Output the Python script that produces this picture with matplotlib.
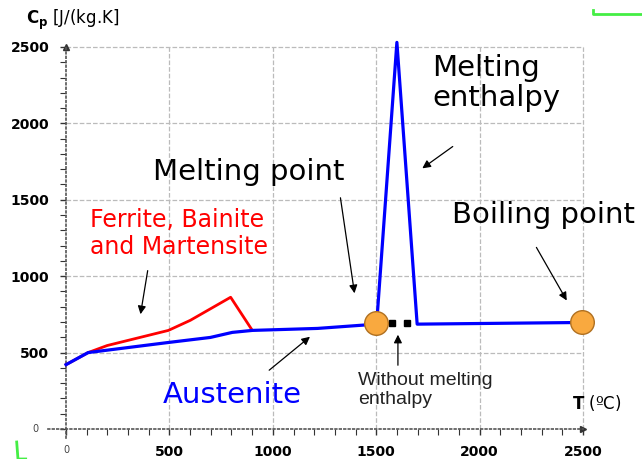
import matplotlib
matplotlib.use('Agg')
import matplotlib.pyplot as plt

plt.rcParams['font.family'] = ['DejaVu Sans']

# blue curve: austenite, with the melting enthalpy spike
T_blue = [0, 107, 495, 698, 804, 901, 1216, 1502, 1600, 1698, 2500]
Cp_blue = [421, 500, 566, 599, 632, 645, 658, 686, 2530, 686, 697]
# red curve: ferrite, bainite and martensite
T_red = [0, 107, 199, 495, 601, 796, 898]
Cp_red = [421, 500, 546, 645, 711, 862, 651]
# melting and boiling points
T_pts = [1499, 2495]
Cp_pts = [695, 700]
# "without melting enthalpy" dashes
T_dash = [1576, 1649]
Cp_dash = [692, 692]

xticks = [0, 500, 1000, 1500, 2000, 2500]
yticks = [0, 500, 1000, 1500, 2000, 2500]

fig = plt.figure(figsize=(6.42, 4.59), dpi=100)
ax = fig.add_axes([0.0771, 0.0388, 0.8632, 0.8922])
ax.set_xlim(-80, 2600)
ax.set_ylim(-80, 2600)

for s in ['top', 'right']:
    ax.spines[s].set_visible(False)
for s in ['left', 'bottom']:
    ax.spines[s].set_position(('data', 0))
    ax.spines[s].set_linestyle(':')
    ax.spines[s].set_color('#555555')
    ax.spines[s].set_linewidth(1.2)
ax.spines['bottom'].set_bounds(-85, 2500)
ax.spines['left'].set_bounds(-60, 2500)

ax.set_xticks(xticks)
ax.set_yticks(yticks)
ax.set_xticks(range(0, 2600, 100), minor=True)
ax.set_yticks(range(0, 2600, 100), minor=True)
ax.tick_params(which='both', direction='out', color='#333333')
ax.tick_params(which='major', length=4.5, width=1)
ax.tick_params(which='minor', length=4, width=0.8)
ax.tick_params(axis='x', pad=7)
ax.tick_params(axis='y', pad=7.5)
ax.set_xticklabels([''] + [str(v) for v in xticks[1:]], fontsize=10,
                   fontweight='bold')
ax.set_yticklabels([''] + [str(v) for v in yticks[1:]], fontsize=10,
                   fontweight='bold')
ax.text(0, -135, '0', fontsize=7, color='#444444', ha='center', va='center')
ax.text(-150, 0, '0', fontsize=7, color='#444444', ha='center', va='center')

for v in xticks[1:]:
    ax.vlines(v, 0, 2500, color='#bbbbbb', ls='--', lw=0.9, zorder=0)
for v in yticks[1:]:
    ax.hlines(v, 0, 2500, color='#bbbbbb', ls='--', lw=0.9, zorder=0)

# axis arrow heads
ax.plot([0], [2500], marker='^', color='#333333', ms=5, clip_on=False)
ax.plot([2500], [0], marker='>', color='#333333', ms=5, clip_on=False)

ax.plot(T_red, Cp_red, color='#ff0000', lw=2.0, zorder=3)
ax.plot(T_blue, Cp_blue, color='#0000ff', lw=2.3, zorder=4)
ax.plot(T_dash, Cp_dash, ls='none', marker='s', color='black', ms=4.5, zorder=5)
ax.plot(T_pts, Cp_pts, ls='none', marker='o', ms=17, mfc='#f9a93f',
        mec='#b07020', mew=1, zorder=6, clip_on=False)

# labels
fig.text(0.04, 0.956, r'$\mathbf{C_p}$ [J/(kg.K]', fontsize=12, va='center')
ax.text(2447, 170, r'$\mathbf{T}$ (ºC)', fontsize=12, ha='left', va='center')

ax.text(1770, 2264, 'Melting\nenthalpy', fontsize=21, ha='left', va='center',
        linespacing=1.1)
ax.text(421, 1682, 'Melting point', fontsize=21, ha='left', va='center')
ax.text(1867, 1400, 'Boiling point', fontsize=21, ha='left', va='center')
ax.text(116, 1279, 'Ferrite, Bainite\nand Martensite', fontsize=17,
        color='#ff0000', ha='left', va='center', linespacing=1.15)
ax.text(469, 222, 'Austenite', fontsize=21, color='#0000ff',
        ha='left', va='center')
ax.text(1412, 255, 'Without melting\nenthalpy', fontsize=14,
        family=['Liberation Sans', 'DejaVu Sans'], color='#222222',
        ha='left', va='center', linespacing=1.2)

arw = dict(arrowstyle='-|>', color='black', lw=0.9, mutation_scale=12)
ax.annotate('', xy=(1712, 1695), xytext=(1881, 1859), arrowprops=arw)
ax.annotate('', xy=(1397, 870), xytext=(1325, 1531), arrowprops=arw)
ax.annotate('', xy=(358, 733), xytext=(397, 1054), arrowprops=arw)
ax.annotate('', xy=(2428, 825), xytext=(2268, 1204), arrowprops=arw)
ax.annotate('', xy=(1190, 615), xytext=(972, 373), arrowprops=arw)
ax.annotate('', xy=(1605, 635), xytext=(1605, 399), arrowprops=arw)

# green marks at the corners of the slide
fig.add_artist(plt.Line2D([0.924, 0.924, 1.0], [0.978, 0.9695, 0.9695],
                          color='#44ee44', lw=2))
fig.add_artist(plt.Line2D([0.026, 0.028, 0.04], [0.037, 0.0, 0.0],
                          color='#44ee44', lw=2))

fig.savefig('out.png', dpi=100)
